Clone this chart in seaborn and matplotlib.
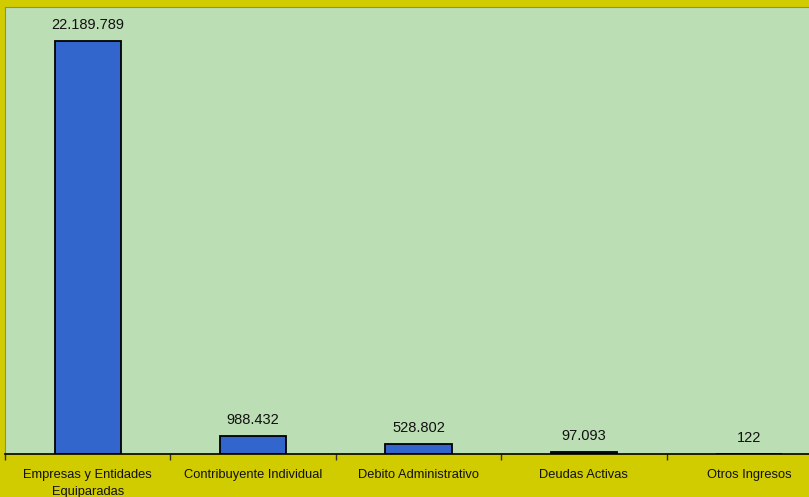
import numpy as np
import pandas as pd
import seaborn as sns
import matplotlib.pyplot as plt

categories = ["Empresas y Entidades\nEquiparadas", "Contribuyente Individual",
              "Debito Administrativo", "Deudas Activas", "Otros Ingresos"]
values = [22189789, 988432, 528802, 97093, 122]
value_labels = ["22.189.789", "988.432", "528.802", "97.093", "122"]

df = pd.DataFrame({"Categoria": categories, "Valor": values})

sns.set_style("white")
plt.rcParams["font.family"] = ["Liberation Sans", "DejaVu Sans"]

fig = plt.figure(figsize=(8.09, 4.97), dpi=100, facecolor="#D0CC00")
ax = fig.add_axes([5 / 809, 43 / 497, 827 / 809, 447 / 497])
ax.set_facecolor("#BCDEB4")

sns.barplot(data=df, x="Categoria", y="Valor", color="#3366CC", width=0.4,
            edgecolor="black", linewidth=1.3, saturation=1, ax=ax)

for i, (v, lab) in enumerate(zip(values, value_labels)):
    ax.annotate(lab, (i, v), xytext=(0, 6.5), textcoords="offset points",
                ha="center", va="bottom", fontsize=10.5, color="#111111")

ax.set_xlim(-0.5, 4.5)
ax.set_ylim(0, 24000000)
ax.set_yticks([])
ax.set_xlabel("")
ax.set_ylabel("")

# ticks between categories, labels at centres
ax.set_xticks(np.arange(-0.5, 5, 1))
ax.set_xticklabels([""] * 6)
ax.set_xticks(range(5), minor=True)
ax.set_xticklabels(categories, minor=True, fontsize=9.3, color="#111111",
                   linespacing=1.55)
ax.tick_params(axis="x", which="major", length=4, width=1, color="#333333",
               direction="out", bottom=True)
ax.tick_params(axis="x", which="minor", length=0, pad=10.5)

for s in ["top", "left", "right"]:
    ax.spines[s].set_color("#888888")
    ax.spines[s].set_linewidth(0.8)
ax.spines["bottom"].set_color("black")
ax.spines["bottom"].set_linewidth(1.2)

plt.savefig("out.png", dpi=100, facecolor=fig.get_facecolor())
